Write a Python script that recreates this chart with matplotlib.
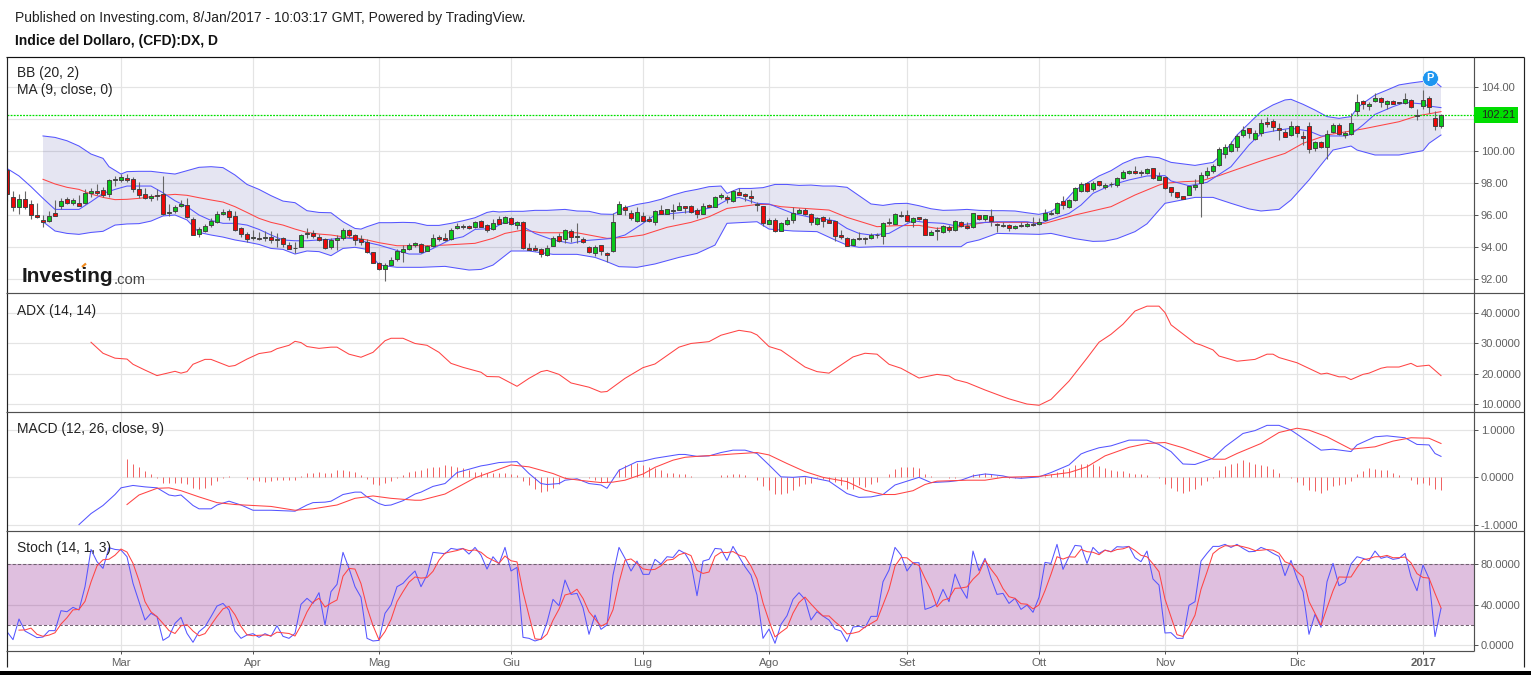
import numpy as np
import matplotlib
matplotlib.use("Agg")
import matplotlib.pyplot as plt
from matplotlib.lines import Line2D
from matplotlib.patches import Rectangle

plt.rcParams['font.family'] = ['Liberation Sans', 'DejaVu Sans']

W, H = 1531, 675

# candele giornaliere DX
open_p = [98.81,97.14,96.52,97.02,96.66,95.98,95.69,95.64,96.10,96.58,
    96.98,96.77,96.73,96.73,97.35,97.48,97.56,97.29,98.16,98.16,
    98.29,98.23,97.60,97.29,97.04,97.25,97.29,96.14,96.27,96.58,
    96.60,95.73,94.79,95.02,95.39,95.58,96.04,96.23,95.91,95.16,
    94.79,94.58,94.54,94.58,94.60,94.41,94.54,94.10,93.94,94.02,
    94.79,94.87,94.64,94.48,94.02,94.46,94.54,95.04,94.73,94.52,
    94.31,93.66,92.98,92.60,92.89,93.23,93.71,93.85,94.10,94.16,
    93.77,94.08,94.60,94.56,94.48,95.16,95.27,95.29,95.23,95.60,
    95.35,95.10,95.73,95.52,95.79,95.35,95.54,93.94,93.91,93.85,
    93.48,94.08,94.66,94.48,94.98,94.60,94.48,94.02,93.60,94.10,
    93.60,93.73,96.08,96.52,96.10,95.64,95.91,95.73,95.58,96.29,
    96.08,96.27,96.33,96.54,96.54,96.29,96.08,96.60,96.52,97.10,
    97.10,96.85,97.44,97.29,97.16,96.62,96.54,95.46,95.69,95.02,
    95.46,95.66,96.14,96.29,96.04,95.46,95.85,95.69,95.60,94.73,
    94.54,94.14,94.54,94.54,94.54,94.75,94.66,95.56,95.46,95.96,
    95.98,95.58,95.85,95.73,94.77,94.98,94.91,95.27,95.04,95.54,
    95.29,95.23,95.98,95.73,95.91,95.41,95.29,95.35,95.21,95.35,
    95.29,95.46,95.41,95.66,96.04,96.10,96.85,96.48,96.91,97.48,
    97.98,97.60,98.10,97.73,97.91,97.85,98.29,98.64,98.73,98.69,
    98.60,98.91,98.21,98.35,97.75,97.42,97.17,97.27,97.77,98.02,
    98.48,98.77,99.10,99.79,100.0,100.27,101.02,101.42,100.77,101.10,
    101.79,101.85,101.42,101.21,100.98,101.54,100.92,101.54,100.17,100.54,
    100.23,101.17,101.60,100.98,101.04,102.48,103.10,102.79,103.10,103.29,
    102.96,103.10,103.04,102.98,103.17,102.21,102.79,103.33,102.04,101.54]
close_p = [97.31,96.48,97.02,96.52,96.02,95.89,95.58,95.96,95.96,96.85,
    96.77,96.91,96.58,97.35,97.50,97.39,97.23,98.16,98.23,98.37,
    98.21,97.60,97.27,97.04,97.16,97.16,96.04,96.16,96.48,96.69,
    95.89,94.77,95.10,95.31,95.62,96.04,96.19,95.89,95.08,94.79,
    94.52,94.60,94.48,94.60,94.41,94.50,94.21,93.89,93.91,94.73,
    94.87,94.66,94.41,93.91,94.41,94.54,95.04,94.77,94.46,94.33,
    93.66,93.02,92.60,92.89,93.16,93.73,93.87,94.10,94.23,93.71,
    94.08,94.56,94.52,94.46,95.04,95.29,95.29,95.16,95.54,95.27,
    95.08,95.48,95.46,95.85,95.41,95.54,93.96,93.83,93.79,93.54,
    93.91,94.54,94.35,95.04,94.64,94.66,94.29,93.66,94.02,93.73,
    93.48,95.54,96.66,96.29,95.79,96.16,95.64,95.64,96.23,96.08,
    96.35,96.29,96.54,96.46,96.16,96.08,96.54,96.50,97.12,97.25,
    97.02,97.48,97.27,97.16,97.04,96.69,95.48,95.69,94.98,95.48,
    95.66,96.10,96.29,96.08,95.58,95.79,95.64,95.52,94.71,94.64,
    94.08,94.48,94.48,94.48,94.73,94.73,95.52,95.52,96.04,95.98,
    95.60,95.79,95.77,94.77,94.91,95.06,95.29,95.04,95.60,95.29,
    95.21,96.10,95.73,95.98,95.64,95.35,95.35,95.16,95.29,95.29,
    95.44,95.35,95.54,96.10,96.12,96.73,96.60,96.91,97.66,97.91,
    97.48,97.98,97.85,97.85,97.94,98.29,98.66,98.73,98.64,98.60,
    98.85,98.29,98.42,97.67,97.42,97.15,97.02,97.79,97.88,98.48,
    98.73,99.04,100.10,100.25,100.42,100.92,101.29,101.10,101.10,101.73,
    101.71,101.52,101.33,100.90,101.54,101.10,100.83,100.10,100.54,100.23,
    101.08,101.60,101.04,101.10,101.73,103.04,102.92,102.92,103.29,103.04,
    103.10,102.96,102.98,103.23,102.73,102.27,103.17,102.73,101.54,102.23]
high_p = [98.85,97.50,97.31,97.50,96.94,96.73,96.00,96.23,96.94,97.04,
    97.14,97.04,97.25,97.60,97.66,97.94,97.77,98.23,98.44,98.56,
    98.56,98.39,98.04,97.66,97.31,97.60,98.44,96.69,96.62,96.94,
    97.04,95.85,95.27,95.44,95.79,96.25,96.35,96.35,96.25,95.27,
    94.96,95.06,94.96,95.00,95.00,94.85,94.60,94.33,94.33,94.81,
    95.21,95.06,94.81,94.54,94.54,94.75,95.16,95.10,94.79,94.75,
    94.52,93.71,93.04,92.98,93.35,93.85,94.12,94.23,94.33,94.23,
    94.14,94.81,94.75,94.85,95.16,95.52,95.44,95.37,95.64,95.69,
    95.44,95.73,95.94,95.94,95.89,95.64,95.60,94.23,94.12,93.91,
    94.12,94.69,94.85,95.10,95.10,95.48,94.60,94.06,94.12,94.12,
    93.71,96.10,96.87,96.62,96.31,96.48,96.19,95.94,96.31,96.62,
    96.37,96.66,96.81,96.56,96.62,96.41,96.73,96.66,97.19,97.39,
    97.25,97.56,97.66,97.39,97.56,96.83,96.56,95.79,95.79,95.58,
    95.85,96.48,96.41,96.46,96.10,95.85,95.94,95.85,95.64,95.06,
    94.60,94.54,94.96,94.64,94.85,94.85,95.56,95.79,96.10,96.27,
    96.31,95.89,95.89,95.79,95.06,95.23,95.37,95.37,95.69,95.62,
    95.56,96.14,96.02,96.02,96.35,95.48,95.54,95.41,95.37,95.54,
    95.54,95.85,95.79,96.35,96.31,96.79,97.19,96.98,97.77,98.04,
    98.08,98.14,98.12,98.02,98.08,98.35,98.81,98.81,99.06,98.81,
    98.96,98.96,98.67,98.37,97.77,97.46,97.19,97.83,98.25,98.71,
    99.02,99.17,100.23,100.42,100.63,101.04,101.54,101.46,101.31,102.00,
    102.10,101.98,101.73,101.38,101.88,101.63,101.25,101.79,100.63,100.63,
    101.31,101.73,101.73,101.25,102.35,103.58,103.19,103.04,103.63,103.40,
    103.17,103.17,103.08,103.65,103.25,102.63,103.81,103.42,102.50,102.29]
low_p = [96.89,96.27,96.08,96.40,95.73,95.79,95.27,95.58,95.96,96.35,
    96.66,96.64,96.56,96.69,97.14,97.25,97.14,97.14,97.81,98.04,
    98.08,97.46,97.04,97.00,96.89,96.94,96.00,95.94,96.10,96.52,
    95.79,94.73,94.64,94.96,95.27,95.52,96.00,95.69,95.02,94.60,
    94.33,94.44,94.44,94.39,94.27,94.02,94.02,93.85,93.60,94.02,
    94.54,94.54,94.39,93.89,93.89,93.81,94.44,94.64,94.14,94.12,
    93.60,92.98,92.56,91.89,92.87,93.14,93.08,93.81,94.02,93.64,
    93.75,93.98,94.37,94.39,94.44,95.10,95.14,95.12,95.16,95.23,
    94.96,95.06,95.44,95.48,95.37,95.14,93.89,93.81,93.77,93.39,
    93.43,94.06,94.31,94.23,94.33,94.27,94.23,93.60,93.46,93.50,
    93.06,93.71,96.06,95.98,95.69,95.58,95.56,95.58,95.39,96.06,
    96.06,95.77,96.29,96.10,96.10,95.83,96.06,96.48,96.48,96.98,
    96.73,96.83,97.23,96.89,96.73,96.27,95.33,95.41,94.93,95.00,
    95.37,95.52,96.10,96.00,95.37,95.37,95.23,95.48,94.39,94.52,
    94.06,94.12,94.44,94.19,94.48,94.54,94.19,95.37,95.44,95.85,
    95.56,95.23,95.69,94.75,94.73,94.44,94.85,94.96,95.02,95.23,
    95.10,95.21,95.69,95.64,95.31,94.96,95.27,95.02,95.14,95.25,
    95.25,95.31,95.37,95.64,95.98,96.08,96.39,96.46,96.89,97.46,
    97.44,97.52,97.81,97.64,97.77,97.73,98.27,98.58,98.58,98.41,
    98.56,98.27,98.17,97.65,97.21,97.08,97.00,97.25,97.56,95.90,
    98.33,98.60,99.08,99.54,99.96,100.00,100.90,100.79,100.69,100.96,
    101.50,101.25,100.69,100.85,100.96,100.90,100.38,99.90,100.00,100.21,
    99.50,101.10,101.00,100.83,101.00,102.21,102.63,102.56,103.04,102.77,
    102.63,102.92,102.94,102.92,102.71,101.96,102.63,102.35,101.31,101.42]

# Bollinger e media mobile, letti a punti
bb_up_i = [6,8,10,12,14,16,17,19,20,22,24,26,28,30,32,34,36,38,40,42,44,46,48,50,52,54,56,58,59,60,62,
    64,66,68,70,72,74,76,78,80,81,82,84,86,88,90,93,95,97,99,101,103,105,107,109,111,113,115,117,119,120,122,124,126,
    128,130,132,134,136,138,140,142,144,146,148,150,152,154,156,158,160,162,164,166,168,170,172,174,176,178,180,182,184,186,188,190,192,
    194,198,201,203,205,207,209,211,213,214,216,218,220,222,224,225,226,228,230,232,234,236,238,239]
bb_up = [100.94,100.85,100.64,100.31,99.81,99.54,99.02,98.56,98.71,98.73,98.73,98.64,98.56,98.77,98.98,99.02,98.96,98.50,97.91,97.60,97.21,96.87,96.77,96.27,96.16,96.14,95.58,95.16,95.12,95.27,95.52,
    95.52,95.54,95.52,95.35,95.35,95.48,95.64,95.83,96.16,96.23,96.19,96.23,96.23,96.29,96.29,96.35,96.25,96.23,96.06,96.04,96.46,96.66,96.79,96.98,97.25,97.46,97.60,97.77,97.81,97.35,97.66,97.66,97.71,
    97.91,97.91,97.85,97.87,97.81,97.81,97.73,97.21,96.69,96.60,96.71,96.73,96.58,96.39,96.29,96.31,96.35,96.29,96.27,96.27,96.25,96.14,96.04,96.21,96.73,97.56,97.98,98.44,98.77,99.23,99.54,99.66,99.58,
    99.29,99.10,99.29,99.96,101.00,101.73,102.46,102.88,103.19,103.23,102.92,102.56,102.15,102.04,102.15,102.67,102.98,103.50,103.81,104.13,104.25,104.35,104.33,104.02]
bb_lo_i = [6,8,10,12,14,16,18,20,22,24,26,28,30,32,34,36,38,40,42,44,46,48,50,52,54,56,58,60,
    62,65,69,73,77,79,81,84,87,91,95,98,100,102,105,108,112,115,118,120,123,125,
    127,131,135,138,140,142,145,148,159,160,162,165,172,174,178,181,183,185,188,190,
    193,198,201,204,207,209,212,214,217,219,221,224,225,228,232,236,237,239]
bb_lo = [95.58,95.00,94.85,94.79,94.91,94.98,95.37,95.44,95.46,95.62,95.94,96.00,95.69,94.91,94.75,94.62,94.44,94.31,94.16,93.91,93.85,93.56,93.75,93.71,93.46,93.91,93.98,93.85,
    92.87,92.73,92.73,92.79,92.56,92.60,92.87,93.75,93.75,93.54,93.54,93.35,93.08,92.77,92.73,92.94,93.35,93.60,94.12,95.48,95.54,95.58,
    95.12,95.00,94.96,94.44,94.12,93.98,94.02,94.02,94.02,94.27,94.44,94.85,94.79,94.85,94.52,94.35,94.37,94.52,94.96,95.45,
    96.73,97.10,97.10,96.73,96.38,96.25,96.35,96.94,98.19,99.13,100.06,100.31,100.06,99.75,99.75,100.02,100.48,101.00]
bb_mid_i = [6,8,10,12,14,16,18,20,22,24,26,28,30,32,34,36,38,40,42,44,46,48,50,52,54,56,58,60,
    62,65,70,73,78,81,83,86,89,95,100,103,106,110,114,117,120,125,127,
    129,133,137,140,145,148,152,155,159,163,170,173,178,184,188,192,
    193,196,199,202,209,213,216,220,226,232,235,239]
bb_mid = [98.23,97.94,97.73,97.60,97.31,97.10,96.96,96.98,97.04,97.14,97.23,97.29,97.23,97.08,96.94,96.81,96.52,96.16,95.79,95.54,95.37,95.12,94.91,94.81,94.75,94.64,94.58,94.44,
    94.27,94.08,94.08,94.12,94.23,94.54,94.85,95.06,94.89,94.89,94.54,94.60,94.75,95.23,95.54,95.89,96.41,96.66,96.66,
    96.52,96.41,96.31,95.85,95.27,95.33,95.35,95.16,95.27,95.54,95.54,95.48,96.00,96.52,97.25,97.87,
    97.98,98.08,98.13,98.46,99.38,99.85,100.48,101.00,101.38,101.83,102.19,102.46]
ma_i = [0,2,4,6,8,10,12,14,16,18,20,22,24,26,28,30,32,34,36,38,40,42,44,46,48,50,52,54,56,58,60,
    62,67,69,71,74,76,78,81,83,85,86,88,91,94,96,101,103,106,108,111,115,118,120,122,125,
    127,131,134,138,140,142,144,147,149,151,153,156,158,161,165,170,172,174,177,179,181,184,
    187,190,193,194,197,200,204,207,209,212,214,217,219,223,224,226,228,231,233,236,237,239]
ma_v = [98.91,98.44,97.77,97.04,96.35,96.35,96.35,96.83,97.35,97.60,97.81,97.81,97.81,97.39,96.89,96.52,96.00,95.66,95.48,95.48,95.37,95.10,94.75,94.44,94.39,94.39,94.44,94.48,94.58,94.50,94.29,
    94.12,93.56,93.56,93.91,94.48,94.64,95.10,95.16,95.58,95.44,95.27,94.85,94.44,94.23,94.39,94.54,94.75,95.48,96.00,96.10,96.25,96.52,96.94,97.10,96.73,
    96.69,96.10,95.85,95.64,95.16,94.85,94.75,94.85,95.27,95.64,95.54,95.48,95.33,95.48,95.58,95.58,95.44,95.73,96.10,96.62,97.35,97.87,
    98.19,98.44,98.46,98.13,97.83,98.04,99.02,100.38,101.10,101.31,101.42,101.25,100.94,100.94,101.04,101.63,102.29,102.77,103.04,102.94,102.81,102.71]

# ADX
adx_i = [14,16,18,20,21,23,25,28,29,30,31,33,34,37,38,40,42,44,45,47,48,49,50,52,54,55,57,59,61,63,64,66,68,70,72,74,76,79,80,
    82,85,87,89,90,92,94,97,99,100,103,106,108,112,114,117,119,122,124,125,127,129,133,135,137,141,143,145,147,149,152,155,157,158,160,163,
    166,167,170,172,174,177,180,182,184,186,188,190,192,193,194,198,199,201,202,205,208,210,211,212,215,219,220,222,223,224,226,227,229,230,232,234,235,237,239]
adx_v = [30.3,26.7,25.1,24.8,23.1,21.2,19.4,20.8,20.2,20.7,23.1,24.7,24.7,22.4,22.7,24.8,26.6,27.2,28.2,29.3,30.6,30.2,28.9,28.3,28.7,28.7,26.4,25.4,27.0,30.8,31.6,31.6,29.9,29.3,27.0,23.4,22.1,20.5,19.1,
    19.0,15.9,18.5,20.7,21.1,19.8,17.0,15.6,14.0,14.2,18.5,22.0,23.2,28.7,29.9,30.5,32.6,34.2,33.6,32.7,28.9,27.7,22.2,20.7,20.2,25.5,26.7,26.4,23.1,21.8,18.6,19.8,19.3,18.1,17.1,14.7,
    12.5,11.8,10.1,9.7,11.6,17.6,25.1,30.3,32.9,36.2,40.5,42.1,42.1,40.0,36.0,30.0,29.4,27.8,25.8,24.1,24.7,26.4,26.4,25.3,23.6,19.9,20.2,19.0,19.0,18.1,19.8,20.2,21.8,22.2,22.2,23.4,22.4,22.8,19.4]

# MACD
macd_i = [12,14,16,18,19,21,23,25,27,28,29,31,32,34,35,37,39,41,44,48,50,51,53,54,56,58,59,60,62,63,64,66,68,69,71,73,75,79,80,82,
    85,87,89,90,92,93,95,97,99,100,102,105,106,108,112,113,115,117,119,121,123,125,127,129,131,133,137,140,142,144,146,148,152,154,157,159,161,163,164,
    166,167,169,170,172,174,177,179,180,182,184,187,190,192,194,196,198,201,203,206,208,210,212,214,216,219,221,224,225,228,230,233,235,237,238,239]
macd_v = [-.99,-.76,-.59,-.36,-.22,-.17,-.20,-.22,-.37,-.39,-.37,-.59,-.66,-.66,-.58,-.50,-.58,-.69,-.69,-.71,-.58,-.53,-.52,-.50,-.36,-.31,-.31,-.41,-.55,-.59,-.58,-.49,-.35,-.31,-.19,-.13,.10,.24,.26,.31,
    .33,.08,-.13,-.15,-.13,-.06,-.03,-.13,-.16,-.23,.15,.33,.34,.40,.48,.48,.44,.45,.52,.57,.57,.50,.26,.01,0,.02,-.08,-.34,-.42,-.41,-.36,-.16,0,-.11,-.09,-.06,.03,.07,.06,
    .03,0,-.02,-.01,.01,.10,.26,.49,.54,.62,.66,.78,.78,.69,.54,.28,.27,.40,.64,.92,.98,1.09,1.09,.99,.82,.57,.59,.54,.68,.85,.87,.83,.69,.68,.50,.44]
signal_i = [20,22,25,27,29,32,35,38,41,44,48,51,55,58,61,64,68,69,73,78,84,
    87,91,93,96,99,101,103,106,108,111,113,115,119,121,125,127,130,133,136,140,143,146,148,151,153,155,160,163,
    166,172,177,180,183,187,190,193,196,199,201,203,205,209,212,215,217,220,224,228,231,234,237,239]
signal_v = [-.57,-.37,-.23,-.22,-.28,-.41,-.53,-.57,-.59,-.61,-.69,-.66,-.58,-.44,-.39,-.44,-.48,-.48,-.35,-.01,.26,
    .22,.08,-.02,-.07,-.11,-.10,-.06,.07,.21,.36,.42,.44,.47,.49,.52,.47,.29,.12,0,-.09,-.27,-.36,-.36,-.28,-.15,-.08,-.06,-.06,
    0,.02,.10,.22,.45,.63,.71,.73,.62,.48,.38,.38,.50,.71,.94,1.03,.99,.85,.59,.64,.76,.83,.82,.71]
hist_start = 20
hist_v = [.38,.29,.22,.13,.06,-.01,-.11,-.12,-.12,-.12,
    -.15,-.23,-.24,-.22,-.16,-.08,-.01,.03,.01,0,
    -.03,-.05,-.07,-.09,-.07,-.06,-.06,-.06,-.06,.03,
    .10,.10,.12,.09,.10,.15,.15,.13,.12,.05,
    -.03,-.13,-.17,-.12,-.08,-.02,.05,.11,.13,.15,
    .20,.22,.22,.26,.24,.22,.19,.15,.12,.12,
    .10,.10,.10,.10,.06,.05,-.07,-.17,-.24,-.31,
    -.29,-.22,-.13,-.02,.01,.01,0,-.02,-.06,-.09,
    -.09,-.02,.17,.26,.29,.31,.26,.22,.19,.15,
    .10,.09,.08,.07,.03,0,0,0,.01,.05,
    .05,.06,.06,.05,.01,-.06,-.18,-.27,-.35,-.35,
    -.32,-.27,-.18,-.13,-.12,-.02,-.04,-.08,-.10,-.17,
    -.24,-.24,-.17,-.20,-.14,-.09,.01,.08,.17,.22,
    .22,.22,.19,.08,.03,0,0,-.01,-.01,0,
    0,.06,.08,.10,.08,.02,0,-.01,-.01,-.01,
    0,.01,.01,.03,.06,.12,.17,.19,.26,.29,
    .28,.27,.24,.19,.15,.13,.13,.10,.08,.06,
    .05,.01,-.02,-.13,-.22,-.29,-.32,-.29,-.24,-.16,
    -.08,-.01,.15,.24,.28,.31,.36,.32,.28,.26,
    .24,.17,.09,.01,-.02,-.09,-.16,-.27,-.29,-.32,
    -.27,-.18,-.16,-.14,-.08,.07,.13,.19,.18,.15,
    .15,.10,.05,.01,-.06,-.13,-.12,-.16,-.24,-.27]

# Stocastico
stoch_k = [13.5,5.6,26,14.1,10.9,7.6,8.2,14.5,14.5,34.2,33.2,37.5,34.9,57.9,94.7,82.6,76,96.4,94.7,94.1,
    87.5,61.2,43.1,25,31.6,28.3,4.9,8.6,21.7,27.6,11.8,3,13.5,18.4,28.3,38.8,41.4,34.9,14.1,6.9,
    10.2,11.5,7.9,11.5,8.9,19.4,8.9,6.9,11.8,40.5,46.4,41.4,52,20.1,53,60.2,91.8,76,57.9,47.4,
    6.9,4.3,4.9,31.6,39.8,57.9,61.2,67.8,73.4,57.9,69.4,91.8,91.1,90.5,95.7,94.7,95.7,90.1,96.7,89.1,
    75.3,87.5,80.3,96.7,73.4,77,7.9,6.9,4.3,6.2,22.7,45.4,39.1,64.5,50.3,51.3,37.2,10.9,29.9,15.8,
    20.1,69.4,96.7,85.9,73.4,83.2,70.1,70.1,84.9,80.3,87.5,86.8,94.1,90.8,80.9,49,83.2,84.9,95.7,95.1,
    83.9,97.7,87.5,77.6,69.4,49.7,6.9,16.1,2,20.7,29.3,45.4,52,45.4,25,33.2,28.9,25,16.1,14.1,
    3.6,18.1,18.8,17.4,28.6,28.6,62.8,74.3,96.7,89.1,73.4,81.6,81.6,35.5,37.5,40.8,55.3,43.1,70.4,56.3,
    46.4,93.1,73.7,85.9,66.1,50.3,51.3,41.4,46.4,35.5,39.8,32.6,47.4,81.9,80.9,99.7,75,87.5,98.7,98,
    80.9,96.7,90.8,94.1,92.4,97.4,97,97.7,86.5,82.6,93.1,65.5,59.5,12.2,12.5,6.9,6.9,39.5,43.1,83.2,
    90.8,97.7,97.7,99.7,96.7,99.7,95.7,92.4,92.8,96.7,94.4,90.8,87.8,68.8,83.9,66.1,53,10.9,30.6,17.8,
    62.8,80.9,58.9,62.2,80.3,87.5,85.9,83.6,93.1,85.9,87.5,84.9,85.9,90.8,67.8,53.9,79.3,66.1,8.6,36.5]
stoch_d_start = 2
stoch_d = [15,15.2,17,10.9,8.9,10.1,12.4,21,27.3,35,35.5,43.4,62.5,78.4,84.5,85,89,95.1,92.1,81,
    63.9,43.1,33,28.3,21.6,14.6,11.7,19.3,20.4,14.1,9.4,11.6,20,28.5,36,38.4,30.1,18.6,10.4,9.5,
    9.9,10.3,9.4,13,12.4,11.7,9.2,19.7,33,42.8,46.5,37.8,41.7,44.8,68.3,76,75.3,60.9,37.4,19.5,
    5.4,13.6,25.4,43.1,53,62.3,67.5,66.4,66.9,73.1,84.1,91.1,92.4,93.6,95.4,93.5,94.2,91.9,87,84,
    81,88.2,83.5,82.4,52.8,29.3,6.4,5.8,11,24.8,35.7,49.7,51.3,55.4,46.3,33.1,26,18.9,21.9,35.1,
    62.1,84,85.3,80.8,75.5,74.5,75,78.5,84.2,84.9,89.5,91.2,88.6,74,71,72.4,87.9,91.9,91.6,92.6,
    89.1,87.5,78.2,65.6,42,24.2,8.3,13,17.3,31.8,42.2,47.6,40.8,34.5,29,29,23.3,18.4,11.3,12,
    13.5,18.1,21.6,25,40,55.3,78.2,86.7,86.4,81.4,78.9,66.2,54.6,38,44.5,46.4,56.3,56.6,57.7,65.3,
    71,84.2,75.2,67.5,56,48,46.4,41.1,40.6,36,39.9,54,70.2,87.5,85.2,87.4,87.1,94.7,92.5,91.9,
    89.5,93.9,92.4,94.6,95.3,97.4,93.7,88.9,87.4,80.4,72.7,45.7,28,10.5,8.8,17.8,29.8,55.3,72.4,90.6,
    95.4,98.4,98,98.7,97.4,95.9,93.6,93.9,94.6,94,91,82.5,80.2,72.9,67.7,43.3,31.5,19.8,37,53.8,
    67.5,67.3,67.5,76.7,84.6,85.6,87.5,87.5,88.8,86.5,86.6,87.2,81.5,70.8,67,66.4,51.3,37]

month_pos = [19, 41, 62, 84, 106, 127, 150, 172, 193, 215, 236]
month_lab = ['Mar', 'Apr', 'Mag', 'Giu', 'Lug', 'Ago', 'Set', 'Ott', 'Nov', 'Dic', '2017']
last_price = 102.21
last_line = 102.27

GRID = '#e4e4e4'
AXC = '#505050'
BLUE = '#5555ff'
RED = '#ff4444'
TXT = '#606060'
LW = 0.75

fig = plt.figure(figsize=(W / 100, H / 100), dpi=100, facecolor='white')


def make_panel(top, bottom, ylim, yticks, fmt, hide=()):
    ax = fig.add_axes([6.5 / W, 1 - bottom / H, (1474 - 6.5) / W, (bottom - top) / H])
    ax.set_xlim((6.5 - 7) / 6, (1474 - 7) / 6)
    ax.set_ylim(*ylim)
    ax.set_yticks(yticks)
    ax.set_yticklabels(['' if v in hide else fmt % v for v in yticks], fontsize=8, color=TXT)
    ax.yaxis.tick_right()
    ax.tick_params(axis='y', length=3, width=0.7, color=AXC, pad=2)
    ax.set_xticks(month_pos)
    ax.tick_params(axis='x', length=0, labelbottom=False)
    ax.grid(True, color=GRID, lw=0.85)
    ax.set_axisbelow(True)
    for s in ax.spines.values():
        s.set_visible(False)
    return ax


def fig_line(x0, y0, x1, y1, color=AXC, lw=0.85):
    fig.add_artist(Line2D([x0 / W, x1 / W], [1 - y0 / H, 1 - y1 / H], color=color, lw=lw,
                          solid_capstyle='butt', zorder=20))


def label(x, y, s, **kw):
    kw.setdefault('fontsize', 9.9)
    kw.setdefault('color', '#222222')
    fig.text(x / W, 1 - y / H, s, va='center', ha=kw.pop('ha', 'left'), zorder=30, **kw)


# prezzo + BB (il 102.00 sta sotto il riquadro verde)
ax_main = make_panel(57, 293, (91.125, 105.875), [92, 94, 96, 98, 100, 102, 104], '%.2f', hide=(102,))
ax_main.fill(np.r_[bb_up_i, bb_lo_i[::-1]], np.r_[bb_up, bb_lo[::-1]], color='#000080', alpha=0.1, lw=0, zorder=1)
ax_main.plot(bb_up_i, bb_up, color=BLUE, lw=LW, zorder=2)
ax_main.plot(bb_lo_i, bb_lo, color=BLUE, lw=LW, zorder=2)
ax_main.plot(bb_mid_i, bb_mid, color=RED, lw=LW, zorder=2)
ax_main.plot(ma_i, ma_v, color=BLUE, lw=LW, zorder=2)
ax_main.axhline(last_line, color='#00e000', lw=0.9, ls=(0, (1.5, 1)), zorder=3)

idx = np.arange(len(open_p))
op = np.array(open_p)
cl = np.array(close_p)
colors = np.where(cl >= op, '#0ac81a', '#ee0808')
ax_main.vlines(idx, low_p, high_p, color='#666666', lw=0.8, zorder=4)
ax_main.bar(idx, np.abs(cl - op), bottom=np.minimum(op, cl), width=0.74, color=colors,
            edgecolor='#444444', linewidth=0.7, zorder=5)

ax_main.scatter([237.2], [104.56], s=130, color='#1e96f0', edgecolor='white', linewidth=0.5, zorder=6)
ax_main.text(237.2, 104.54, 'P', color='white', fontsize=8, fontweight='bold', ha='center', va='center', zorder=7)

# ADX
ax_adx = make_panel(293, 412, (7.5, 46.4), [10, 20, 30, 40], '%.4f')
ax_adx.plot(adx_i, adx_v, color=RED, lw=LW)

# MACD
ax_macd = make_panel(412, 531, (-1.125, 1.37), [-1, 0, 1], '%.4f')
ax_macd.vlines(np.arange(len(hist_v)) + hist_start, 0, hist_v, color='#f06060', lw=0.7, zorder=2)
ax_macd.plot(macd_i, macd_v, color=BLUE, lw=LW, zorder=3)
ax_macd.plot(signal_i, signal_v, color=RED, lw=LW, zorder=3)

# Stoch
ax_st = make_panel(531, 651, (-5.6, 112.9), [0, 40, 80], '%.4f')
ax_st.axhspan(20, 80, color='#800080', alpha=0.25, lw=0, zorder=1)
ax_st.axhline(80, color='#706070', lw=0.75, ls=(0, (3, 2)), zorder=2)
ax_st.axhline(20, color='#706070', lw=0.75, ls=(0, (3, 2)), zorder=2)
ax_st.plot(np.arange(len(stoch_k)), stoch_k, color=BLUE, lw=LW, zorder=3)
ax_st.plot(np.arange(len(stoch_d)) + stoch_d_start, stoch_d, color=RED, lw=LW, zorder=3)
ax_st.tick_params(axis='x', labelbottom=True, length=2.5, width=0.7, color=AXC, pad=2.5)
ax_st.set_xticklabels(month_lab, fontsize=8.2, color=TXT)
for t in ax_st.get_xticklabels():
    if t.get_text() == '2017':
        t.set_fontweight('bold')

# cornice
fig_line(6, 57, 1524, 57, color='#111111')
fig_line(6.5, 57, 6.5, 667, color='#222222')
fig_line(1524, 57, 1524, 667, color='#222222')
fig_line(1474, 57, 1474, 651)
for yy in (293, 412, 531):
    fig_line(6, yy, 1524, yy)
fig_line(6, 651, 1474, 651)
fig.add_artist(Rectangle((0, 0), 1, 4.5 / H, transform=fig.transFigure, color='black', lw=0, zorder=40))

# etichetta ultimo prezzo
fig.add_artist(Rectangle((1474 / W, 1 - 123 / H), 44 / W, 16 / H, transform=fig.transFigure,
                         color='#00dd00', lw=0, zorder=25))
label(1481, 115, '%.2f' % last_price, color='#222222', fontsize=8)

# testi
label(15, 18, 'Published on Investing.com, 8/Jan/2017 - 10:03:17 GMT, Powered by TradingView.', color='#222222', fontsize=10)
label(15, 41, 'Indice del Dollaro, (CFD):DX, D', fontweight='bold', color='#111111', fontsize=10)
label(17, 73, 'BB (20, 2)')
label(17, 90, 'MA (9, close, 0)')
label(17, 310.5, 'ADX (14, 14)')
label(17, 429, 'MACD (12, 26, close, 9)')
label(17, 548, 'Stoch (14, 1, 3)')

# logo
label(22, 277, 'Investing', fontsize=15, fontweight='bold', color='#1a1a1a')
label(114, 279.5, '.com', fontsize=10.6, color='#444444')
fig_line(82, 267, 86, 263.5, color='#f08a1d', lw=1.6)

fig.savefig('out.png', dpi=100, facecolor='white')
